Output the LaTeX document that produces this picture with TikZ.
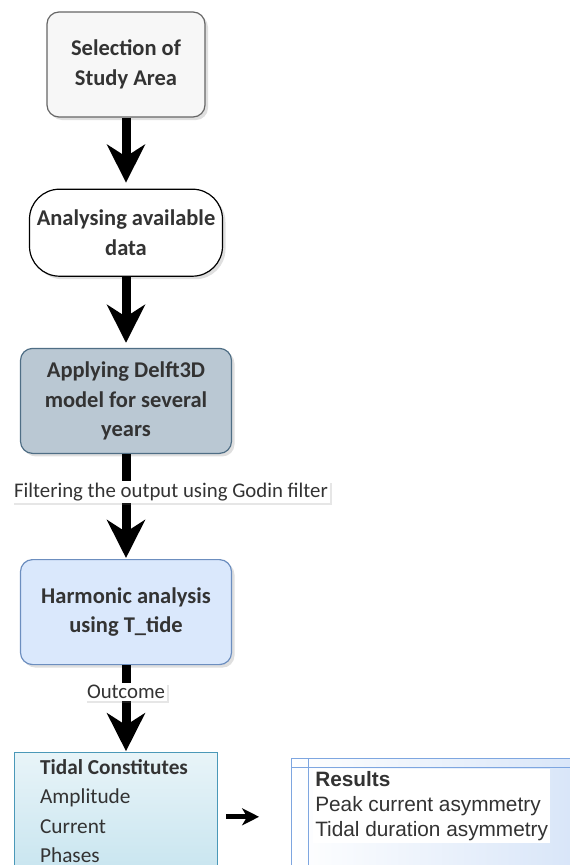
\documentclass[tikz,border=0pt]{standalone}
\usepackage{fontspec}
\setmainfont{Carlito}
\newfontfamily\arialfont{Liberation Sans}
\usepackage{xcolor}
\usepackage{tikz}
\usetikzlibrary{arrows.meta,positioning,shadows}

\definecolor{txtgray}{HTML}{333333}
\definecolor{selfill}{HTML}{F7F7F7}
\definecolor{selline}{HTML}{666666}
\definecolor{appfill}{HTML}{BAC8D3}
\definecolor{appline}{HTML}{4F6E85}
\definecolor{harfill}{HTML}{DAE8FC}
\definecolor{harline}{HTML}{6C8EBF}
\definecolor{tidtop}{HTML}{E8F4F8}
\definecolor{tidbot}{HTML}{C6E4EF}
\definecolor{tidline}{HTML}{4A98B8}
\definecolor{resline}{HTML}{7EA6E0}
\definecolor{resfill}{HTML}{D6E4F8}

\begin{document}
\begin{tikzpicture}[
  x=1pt,y=1pt,
  node distance=71pt,
  box/.style={draw,rounded corners=12pt,align=center,text=txtgray,line width=1.2pt,
    inner sep=2pt,font=\fontsize{22.5}{29.5}\selectfont\bfseries,
    drop shadow={opacity=0.25,shadow xshift=3pt,shadow yshift=-3pt}},
  arr/.style={-{Stealth[length=38pt,width=38pt,inset=12pt]},line width=9pt},
  sarr/.style={-{Stealth[length=17pt,width=17pt,inset=5pt]},line width=5pt},
  lbl/.style={fill=white,inner sep=2pt,text=txtgray,font=\fontsize{20.8}{24}\selectfont,
    drop shadow={opacity=0.2,shadow xshift=2pt,shadow yshift=-2pt}}
]
\useasboundingbox (0,0) rectangle (570,-865);
\clip (0,0) rectangle (570,-865);

\node[box,fill=selfill,draw=selline,minimum width=158pt,minimum height=105pt] (sel) at (126,-64.5) {Selection of\\Study Area};
\node[box,fill=white,draw=black,rounded corners=30pt,minimum width=193pt,minimum height=87pt,below=71pt of sel] (ana) {Analysing available\\data};
\node[box,fill=appfill,draw=appline,minimum width=211pt,minimum height=105pt,below=71pt of ana] (app) {Applying Delft3D\\model for several\\years};
\node[box,fill=harfill,draw=harline,minimum width=211pt,minimum height=105pt,below=105pt of app] (har) {Harmonic analysis\\using T\_tide};

% output boxes
\node[draw=tidline,line width=1.2pt,top color=tidtop,bottom color=tidbot,minimum width=203pt,minimum height=128pt,below=87pt of har,xshift=-10pt] (tid) {};
\node[anchor=north west,align=left,text=txtgray,inner sep=0pt,font=\fontsize{21.3}{29.5}\selectfont] (tidtxt) at ([xshift=26pt,yshift=-7pt]tid.north west) {\textbf{Tidal Constitutes}\\Amplitude\\Current\\Phases};

\node[draw=resline,line width=1.2pt,left color=white,right color=resfill,minimum width=300pt,minimum height=126pt,right=73pt of tid.north east,anchor=north west,yshift=-6pt] (res) {};
\draw[resline,line width=1pt] ([yshift=-9pt]res.north west) -- ([yshift=-9pt]res.north east);
\draw[resline,line width=1pt] ([xshift=17pt]res.north west) -- ([xshift=17pt]res.south west);
\node[anchor=north west,align=left,fill=white,inner sep=2pt,text=txtgray,font=\arialfont\fontsize{20.8}{25}\selectfont] (restxt) at ([xshift=22pt,yshift=-11pt]res.north west) {\textbf{Results}\\Peak current asymmetry\\Tidal duration asymmetry};

\draw[arr,shorten >=6pt] (sel) -- (ana);
\draw[arr,shorten >=5pt] (ana) -- (app);
\draw[arr,shorten >=1pt] (app) -- node[lbl,pos=0.36,xshift=45pt] {Filtering the output using Godin filter} (har);
\draw[arr,shorten >=1pt] (har.south) -- node[lbl,pos=0.31] {Outcome} (har.south |- tid.north);
\draw[sarr,shorten <=8pt,shorten >=32pt] (tid.east) -- (tid.east -| res.west);
\end{tikzpicture}
\end{document}
